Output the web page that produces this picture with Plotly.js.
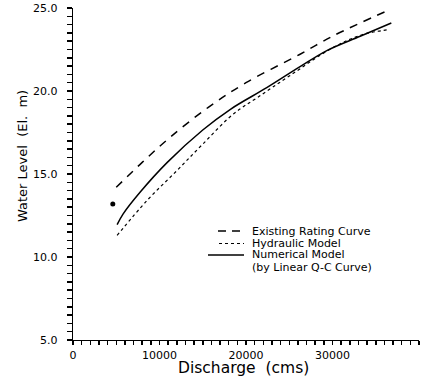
<!DOCTYPE html>
<html><head><meta charset="utf-8">
<script src="https://cdn.plot.ly/plotly-3.0.1.min.js"></script>
<style>html,body{margin:0;padding:0;background:#fff}</style>
</head><body><div id="chart" style="width:423px;height:379px"></div>
<script>
// Existing Rating Curve
const ratingQ = [5000, 8000, 11200, 15600, 20000, 26200, 30000, 36600];
const ratingH = [14.2, 15.7, 17.2, 19.0, 20.5, 22.2, 23.3, 24.9];
// Hydraulic Model
const hydQ = [5100, 8550, 12000, 15000, 18500, 21300, 25000, 30000, 33500, 36600];
const hydH = [11.3, 13.4, 15.2, 16.8, 18.6, 19.6, 20.9, 22.6, 23.4, 23.7];
// Numerical Model (by Linear Q-C Curve)
const numQ = [5100, 5800, 7750, 10900, 15000, 18200, 22400, 26200, 29400, 33200, 36800];
const numH = [11.95, 12.6, 13.9, 15.7, 17.65, 18.9, 20.2, 21.45, 22.45, 23.3, 24.1];
// Observed point
const obsQ = [4600];
const obsH = [13.2];
// Legend labels
const legendLabels = ['Existing Rating Curve', 'Hydraulic Model', 'Numerical Model', '(by Linear Q-C Curve)'];
// Axis tick labels
const xTickLabels = ['0', '10000', '20000', '30000', '40000'];
const yTickLabels = ['5.0', '10.0', '15.0', '20.0', '25.0'];

const font = "DejaVu Sans, sans-serif";
const traces = [
  {x: ratingQ, y: ratingH, mode: 'lines', name: legendLabels[0],
   line: {color: '#000', width: 1.5, dash: '8px,7px', shape: 'spline'}},
  {x: hydQ, y: hydH, mode: 'lines', name: legendLabels[1],
   line: {color: '#000', width: 1.2, dash: 'dot', shape: 'spline'}},
  {x: numQ, y: numH, mode: 'lines', name: legendLabels[2],
   line: {color: '#000', width: 1.5, shape: 'spline'}},
  {x: obsQ, y: obsH, mode: 'markers', name: 'Observed',
   marker: {color: '#000', size: 5}}
];

// ticks: every 1000 on x (label every 10000), every 0.5 on y (label every 5)
const xTickVals = [], xTickText = [];
for (let i = 0; i <= 40; i++) {
  xTickVals.push(i * 1000);
  xTickText.push(i % 10 === 0 ? xTickLabels[i / 10] : '');
}
const yTickVals = [], yTickText = [];
for (let i = 0; i <= 40; i++) {
  yTickVals.push(5 + i * 0.5);
  yTickText.push(i % 10 === 0 ? yTickLabels[i / 10] + '\u00A0\u00A0' : '');
}

// plot area in pixels: x 73..419, y 8..340
const PL = 73, PW = 346, PT = 8, PH = 332;
const px = v => (v - PL) / PW;
const py = v => (PT + PH - v) / PH;

const legRows = [231, 243.5, 255, 267];
const annotations = legendLabels.map((t, i) => ({
  text: t, xref: 'paper', yref: 'paper', x: px(251), y: py(legRows[i]),
  xanchor: 'left', yanchor: 'middle', showarrow: false, borderpad: 0,
  font: {size: 11, family: font, color: '#000'}
}));
annotations.push({
  text: 'Water Level  (El.  m)', xref: 'paper', yref: 'paper', x: px(22), y: py(156),
  xanchor: 'center', yanchor: 'middle', textangle: -90, showarrow: false,
  font: {size: 13, family: font, color: '#000'}
});
annotations.push({
  text: 'Discharge  (cms)', xref: 'paper', yref: 'paper', x: px(243), y: py(368),
  xanchor: 'center', yanchor: 'middle', showarrow: false, borderpad: 0,
  font: {size: 15.5, family: font, color: '#000'}
});

const shapes = [
  {type: 'line', xref: 'paper', yref: 'paper', x0: px(218), x1: px(244), y0: py(legRows[0]), y1: py(legRows[0]),
   line: {color: '#000', width: 1.3, dash: '8px,6px'}},
  {type: 'line', xref: 'paper', yref: 'paper', x0: px(219), x1: px(244), y0: py(legRows[1]), y1: py(legRows[1]),
   line: {color: '#000', width: 1.1, dash: 'dot'}},
  {type: 'line', xref: 'paper', yref: 'paper', x0: px(208), x1: px(244), y0: py(legRows[2]), y1: py(legRows[2]),
   line: {color: '#000', width: 1.4}}
];

const layout = {
  width: 423, height: 379,
  margin: {l: 73, r: 4, t: 8, b: 39},
  paper_bgcolor: '#fff', plot_bgcolor: '#fff',
  font: {family: font, color: '#000', size: 11},
  showlegend: false,
  annotations: annotations,
  shapes: shapes,
  xaxis: {range: [0, 40000], tickmode: 'array', tickvals: xTickVals, ticktext: xTickText,
          showgrid: false, zeroline: false,
          showline: true, linecolor: '#000', linewidth: 1.4, ticks: 'outside', ticklen: 4,
          tickcolor: '#000', tickwidth: 1.5, tickfont: {size: 11, family: font}},
  yaxis: {range: [5, 25], tickmode: 'array', tickvals: yTickVals, ticktext: yTickText,
          showgrid: false, zeroline: false,
          showline: true, linecolor: '#000', linewidth: 1.4, ticks: 'outside', ticklen: 5,
          tickcolor: '#000', tickwidth: 1.5, tickfont: {size: 11, family: font}}
};
Plotly.newPlot('chart', traces, layout, {displayModeBar: false, staticPlot: true});
</script></body></html>
